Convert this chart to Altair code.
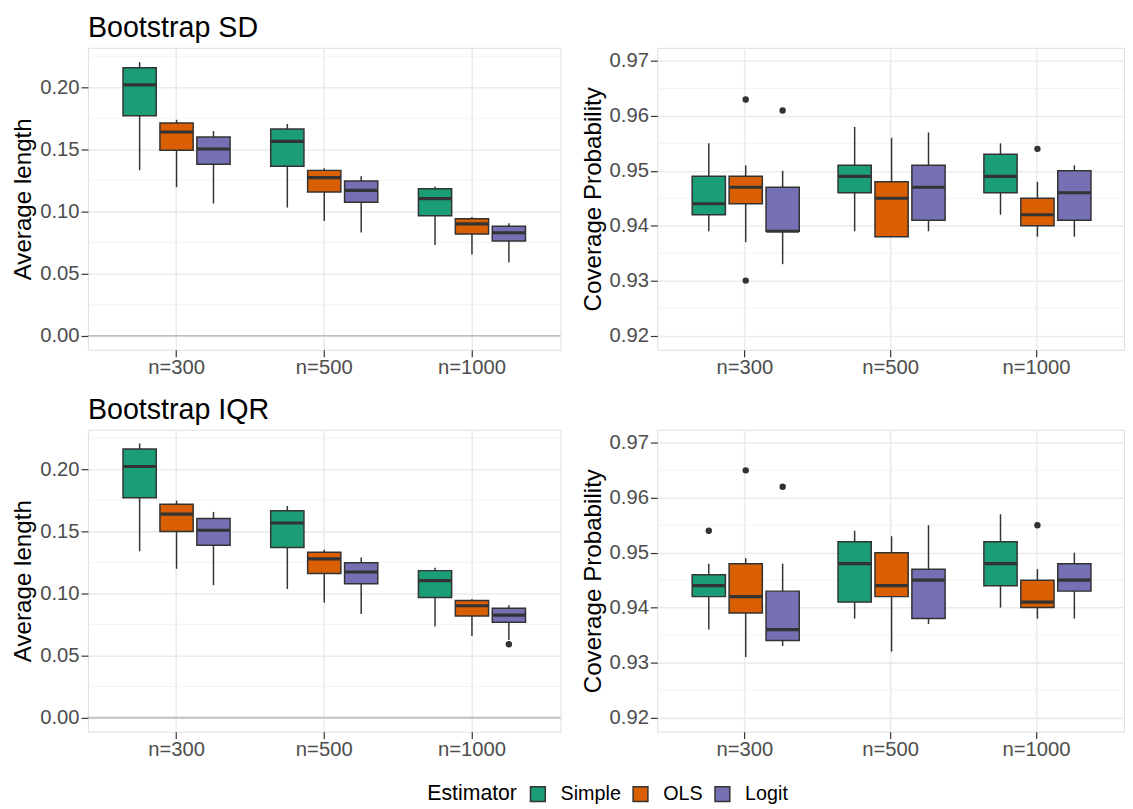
import altair as alt
import pandas as pd

ns = ["n=300", "n=500", "n=1000"]
ests = ["Simple", "OLS", "Logit"]
colors = ["#1B9E77", "#D95F02", "#7570B3"]

# order: n=300 (Simple, OLS, Logit), n=500 (...), n=1000 (...)
sd_len_low = [0.1333, 0.1196, 0.1064, 0.1032, 0.0924, 0.0831, 0.0730, 0.0654, 0.0590]
sd_len_q1 = [0.1770, 0.1492, 0.1381, 0.1365, 0.1156, 0.1075, 0.0966, 0.0818, 0.0762]
sd_len_med = [0.2019, 0.1640, 0.1503, 0.1564, 0.1273, 0.1170, 0.1103, 0.0900, 0.0829]
sd_len_q3 = [0.2156, 0.1712, 0.1600, 0.1664, 0.1331, 0.1246, 0.1183, 0.0942, 0.0881]
sd_len_high = [0.2202, 0.1738, 0.1648, 0.1704, 0.1349, 0.1283, 0.1202, 0.0955, 0.0905]
sd_len_out_n, sd_len_out_e, sd_len_out_v = [], [], []

sd_cov_low = [0.939, 0.937, 0.933, 0.939, 0.938, 0.939, 0.942, 0.938, 0.938]
sd_cov_q1 = [0.942, 0.944, 0.939, 0.946, 0.938, 0.941, 0.946, 0.940, 0.941]
sd_cov_med = [0.944, 0.947, 0.939, 0.949, 0.945, 0.947, 0.949, 0.942, 0.946]
sd_cov_q3 = [0.949, 0.949, 0.947, 0.951, 0.948, 0.951, 0.953, 0.945, 0.950]
sd_cov_high = [0.955, 0.951, 0.950, 0.958, 0.956, 0.957, 0.955, 0.948, 0.951]
sd_cov_out_n = ["n=300", "n=300", "n=300", "n=1000"]
sd_cov_out_e = ["OLS", "OLS", "Logit", "OLS"]
sd_cov_out_v = [0.963, 0.930, 0.961, 0.954]

iqr_len_low = [0.1339, 0.1198, 0.1066, 0.1035, 0.0926, 0.0833, 0.0733, 0.0656, 0.0625]
iqr_len_q1 = [0.1770, 0.1498, 0.1387, 0.1370, 0.1159, 0.1077, 0.0966, 0.0817, 0.0767]
iqr_len_med = [0.2021, 0.1638, 0.1508, 0.1566, 0.1278, 0.1172, 0.1103, 0.0900, 0.0825]
iqr_len_q3 = [0.2162, 0.1717, 0.1603, 0.1664, 0.1331, 0.1246, 0.1183, 0.0942, 0.0881]
iqr_len_high = [0.2206, 0.1746, 0.1656, 0.1704, 0.1352, 0.1289, 0.1206, 0.0952, 0.0905]
iqr_len_out_n = ["n=1000"]
iqr_len_out_e = ["Logit"]
iqr_len_out_v = [0.0590]

iqr_cov_low = [0.936, 0.931, 0.933, 0.938, 0.932, 0.937, 0.940, 0.938, 0.938]
iqr_cov_q1 = [0.942, 0.939, 0.934, 0.941, 0.942, 0.938, 0.944, 0.940, 0.943]
iqr_cov_med = [0.944, 0.942, 0.936, 0.948, 0.944, 0.945, 0.948, 0.941, 0.945]
iqr_cov_q3 = [0.946, 0.948, 0.943, 0.952, 0.950, 0.947, 0.952, 0.945, 0.948]
iqr_cov_high = [0.948, 0.949, 0.948, 0.954, 0.953, 0.955, 0.957, 0.947, 0.950]
iqr_cov_out_n = ["n=300", "n=300", "n=300", "n=1000"]
iqr_cov_out_e = ["Simple", "OLS", "Logit", "OLS"]
iqr_cov_out_v = [0.954, 0.965, 0.962, 0.955]

len_ticks = [0.00, 0.05, 0.10, 0.15, 0.20]
len_minor = [0.025, 0.075, 0.125, 0.175, 0.225]
len_domain = [-0.0113, 0.2317]
cov_ticks = [0.92, 0.93, 0.94, 0.95, 0.96, 0.97]
cov_minor = [0.925, 0.935, 0.945, 0.955, 0.965]
cov_domain = [0.9174, 0.9724]

FONT = "Liberation Sans"
DARK = "#333333"

legend = alt.Legend(
    title="Estimator", orient="none", legendX=344, legendY=746,
    direction="horizontal", titleOrient="left", titleFontSize=21.5,
    titleFontWeight="normal", titleColor="black", titleFont=FONT,
    labelFontSize=20, labelColor="black", labelFont=FONT,
    symbolType="square", symbolSize=225, symbolStrokeColor=DARK,
    symbolStrokeWidth=1.5, columnPadding=8, labelOffset=13, titlePadding=11,
)


def panel(low, q1, med, q3, high, out_n, out_e, out_v, ticks, minor, domain,
          ytitle, width, title, zero_line):
    rows_n = [n for n in ns for _ in ests]
    rows_e = [e for _ in ns for e in ests]
    df = pd.DataFrame({"n": rows_n, "est": rows_e, "low": low, "q1": q1,
                       "med": med, "q3": q3, "high": high})
    odf = pd.DataFrame({"n": out_n, "est": out_e, "v": out_v})
    yscale = alt.Scale(domain=domain, nice=False, zero=False)
    yaxis = alt.Axis(title=ytitle, values=ticks, format=".2f", labelFontSize=20.5,
                     labelColor="#4D4D4D", labelFont=FONT, titleFont=FONT,
                     titleFontSize=24.5, titleFontWeight="normal", titleColor="black",
                     tickColor=DARK, tickSize=7, tickWidth=1.2, labelPadding=2,
                     titlePadding=4, domain=False, grid=True, gridColor="#EBEBEB",
                     gridWidth=1.6)
    xenc = alt.X("n:N", sort=ns, scale=alt.Scale(domain=ns, paddingInner=0, paddingOuter=0.1),
                 axis=alt.Axis(title=None, labelFontSize=20.5, labelColor="#4D4D4D",
                               labelFont=FONT, labelAngle=0, tickColor=DARK, tickSize=7,
                               tickWidth=1.2, labelPadding=1.5, domain=False, grid=True,
                               gridColor="#EBEBEB", gridWidth=1.6))
    xoff = alt.XOffset("est:N", sort=ests,
                       scale=alt.Scale(domain=ests, paddingInner=0.1, paddingOuter=0.55))
    fill = alt.Fill("est:N", sort=ests, scale=alt.Scale(domain=ests, range=colors),
                    legend=legend)

    mdf = pd.DataFrame({"v": minor})
    minor_layer = alt.Chart(mdf).mark_rule(color="#F2F2F2", strokeWidth=0.9).encode(
        y=alt.Y("v:Q", scale=yscale, axis=yaxis))
    layers = [minor_layer]
    if zero_line:
        zdf = pd.DataFrame({"v": [0.0]})
        layers.append(alt.Chart(zdf).mark_rule(color="#BEBEBE", strokeWidth=1.6).encode(
            y=alt.Y("v:Q", scale=yscale, axis=yaxis)))
    base = alt.Chart(df)
    whisk = base.mark_rule(color=DARK, strokeWidth=1.5).encode(
        x=xenc, xOffset=xoff, y=alt.Y("low:Q", scale=yscale, axis=yaxis), y2="high:Q")
    box = base.mark_bar(stroke=DARK, strokeWidth=1.5).encode(
        x=xenc, xOffset=xoff, y=alt.Y("q1:Q", scale=yscale, axis=yaxis), y2="q3:Q",
        fill=fill)
    medt = base.mark_tick(color=DARK, thickness=3.2, size=33, opacity=1).encode(
        x=xenc, xOffset=xoff, y=alt.Y("med:Q", scale=yscale, axis=yaxis))
    layers += [whisk, box, medt]
    if len(out_v):
        layers.append(alt.Chart(odf).mark_circle(color=DARK, size=42, opacity=1).encode(
            x=xenc, xOffset=xoff, y=alt.Y("v:Q", scale=yscale, axis=yaxis)))
    ch = alt.layer(*layers).properties(
        width=width, height=306,
        title=alt.TitleParams(title, anchor="start", frame="group", fontSize=29, font=FONT,
                              fontWeight="normal", color="black", offset=5))
    return ch


tl = panel(sd_len_low, sd_len_q1, sd_len_med, sd_len_q3, sd_len_high,
           sd_len_out_n, sd_len_out_e, sd_len_out_v, len_ticks, len_minor, len_domain,
           "Average length", 479, "Bootstrap SD", True)
tr = panel(sd_cov_low, sd_cov_q1, sd_cov_med, sd_cov_q3, sd_cov_high,
           sd_cov_out_n, sd_cov_out_e, sd_cov_out_v, cov_ticks, cov_minor, cov_domain,
           "Coverage Probability", 473, " ", False)
bl = panel(iqr_len_low, iqr_len_q1, iqr_len_med, iqr_len_q3, iqr_len_high,
           iqr_len_out_n, iqr_len_out_e, iqr_len_out_v, len_ticks, len_minor, len_domain,
           "Average length", 479, "Bootstrap IQR", True)
br = panel(iqr_cov_low, iqr_cov_q1, iqr_cov_med, iqr_cov_q3, iqr_cov_high,
           iqr_cov_out_n, iqr_cov_out_e, iqr_cov_out_v, cov_ticks, cov_minor, cov_domain,
           "Coverage Probability", 473, " ", False)

chart = alt.vconcat(
    alt.hconcat(tl, tr, spacing=17),
    alt.hconcat(bl, br, spacing=17),
    spacing=16,
).properties(padding={"left": 2, "top": 0, "right": 0, "bottom": 0}).configure_view(
    stroke=DARK, strokeWidth=1.5
).configure(background="white")

chart.save("out.html", embed_options={"renderer": "svg", "actions": False})
